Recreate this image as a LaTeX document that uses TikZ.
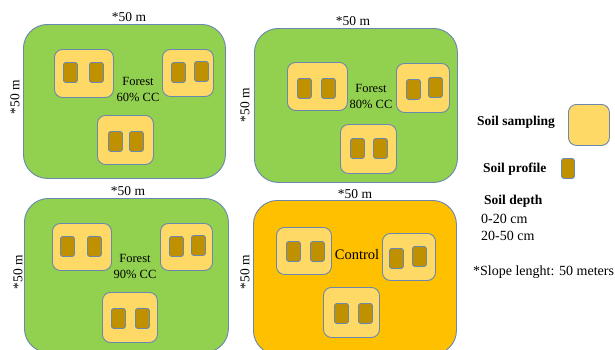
\documentclass[tikz,border=0pt]{standalone}
\usepackage{fontspec}
\setmainfont{Liberation Serif}
\definecolor{plotgreen}{RGB}{146,208,80}
\definecolor{plotorange}{RGB}{255,192,0}
\definecolor{sampfill}{RGB}{255,217,102}
\definecolor{proffill}{RGB}{191,144,0}
\definecolor{edgeblue}{RGB}{105,135,175}
\begin{document}
\begin{tikzpicture}[x=1pt,y=-1pt,
  plotbox/.style={draw=edgeblue,line width=0.9pt,rounded corners=24pt,inner sep=0pt,anchor=north west},
  sampbox/.style={draw=edgeblue,fill=sampfill,line width=0.9pt,rounded corners=8pt,inner sep=0pt,anchor=north west},
  profbox/.style={draw=edgeblue,fill=proffill,line width=0.9pt,rounded corners=2.5pt,inner sep=0pt,anchor=north west,minimum width=14pt,minimum height=20pt},
  dimlab/.style={font=\fontsize{13.5}{15}\selectfont,inner sep=0pt},
  plotlab/.style={font=\fontsize{12.5}{16}\selectfont,inner sep=0pt,align=center},
  leglab/.style={font=\fontsize{14}{15}\selectfont,inner sep=0pt,anchor=west}]
\useasboundingbox (0,0) rectangle (615,349);
% ---------------- Plot A
\node[plotbox,fill=plotgreen,minimum width=202pt,minimum height=154pt] (pA) at (23,24) {};
\node[sampbox,minimum width=59pt,minimum height=48pt] (sA1) at (54,49) {};
\node[profbox] (pA11) at (63,62) {};
\node[profbox] (pA12) at (89,62) {};
\node[sampbox,minimum width=51pt,minimum height=47pt] (sA2) at (162,49) {};
\node[profbox] (pA21) at (171,62) {};
\node[profbox] (pA22) at (194,61) {};
\node[sampbox,minimum width=56pt,minimum height=49pt] (sA3) at (97,115) {};
\node[profbox] (pA31) at (108,131) {};
\node[profbox] (pA32) at (129,131) {};
\node[plotlab] (lA) at (138,89) {Forest\\60\% CC};
\node[dimlab] (tA) at (129,17) {*50 m};
\node[dimlab,rotate=90] (vA) at (15,97) {*50 m};
% ---------------- Plot B
\node[plotbox,fill=plotgreen,minimum width=203pt,minimum height=154pt] (pB) at (254,28) {};
\node[sampbox,minimum width=60pt,minimum height=48pt] (sB1) at (287,62) {};
\node[profbox] (pB11) at (297,78) {};
\node[profbox] (pB12) at (321,78) {};
\node[sampbox,minimum width=53pt,minimum height=49pt] (sB2) at (396,63) {};
\node[profbox] (pB21) at (406,79) {};
\node[profbox] (pB22) at (428,77) {};
\node[sampbox,minimum width=56pt,minimum height=49pt] (sB3) at (340,124) {};
\node[profbox] (pB31) at (350,138) {};
\node[profbox] (pB32) at (373,138) {};
\node[plotlab] (lB) at (371,96) {Forest\\80\% CC};
\node[dimlab] (tB) at (353,21) {*50 m};
\node[dimlab,rotate=90] (vB) at (245,105) {*50 m};
% ---------------- Plot C
\node[plotbox,fill=plotgreen,minimum width=204pt,minimum height=154pt] (pC) at (24,198) {};
\node[sampbox,minimum width=59pt,minimum height=47pt] (sC1) at (52,223) {};
\node[profbox] (pC11) at (60,236) {};
\node[profbox] (pC12) at (87,236) {};
\node[sampbox,minimum width=52pt,minimum height=47pt] (sC2) at (160,223) {};
\node[profbox] (pC21) at (169,236) {};
\node[profbox] (pC22) at (191,235) {};
\node[sampbox,minimum width=55pt,minimum height=50pt] (sC3) at (102,292) {};
\node[profbox] (pC31) at (111,308) {};
\node[profbox] (pC32) at (135,308) {};
\node[plotlab] (lC) at (135,266) {Forest\\90\% CC};
\node[dimlab] (tC) at (128,191) {*50 m};
\node[dimlab,rotate=90] (vC) at (18,272) {*50 m};
% ---------------- Plot D (control)
\node[plotbox,fill=plotorange,minimum width=203pt,minimum height=154pt] (pD) at (253,200) {};
\node[sampbox,minimum width=55pt,minimum height=47pt] (sD1) at (276,227) {};
\node[profbox] (pD11) at (286,241) {};
\node[profbox] (pD12) at (310,241) {};
\node[sampbox,minimum width=53pt,minimum height=47pt] (sD2) at (382,233) {};
\node[profbox] (pD21) at (389,248) {};
\node[profbox] (pD22) at (412,246) {};
\node[sampbox,minimum width=56pt,minimum height=50pt] (sD3) at (323,287) {};
\node[profbox] (pD31) at (334,303) {};
\node[profbox] (pD32) at (358,303) {};
\node[plotlab,font=\fontsize{14.5}{16}\selectfont] (lD) at (357,255) {Control};
\node[dimlab] (tD) at (355,194) {*50 m};
\node[dimlab,rotate=90] (vD) at (245,272) {*50 m};
% ---------------- Legend
\node[leglab,font=\fontsize{13.5}{15}\selectfont\bfseries] (gS) at (477,122) {Soil sampling};
\node[sampbox,minimum width=41pt,minimum height=41pt] (gSb) at (568,104) {};
\node[leglab,font=\fontsize{13.5}{15}\selectfont\bfseries] (gP) at (483,169) {Soil profile};
\node[profbox,minimum width=13pt] (gPb) at (561,158) {};
\node[leglab,font=\fontsize{13.5}{15}\selectfont\bfseries] (gD) at (484,201) {Soil depth};
\node[leglab] (gD1) at (481,219) {0-20 cm};
\node[leglab] (gD2) at (481,236) {20-50 cm};
\node[leglab] (gL) at (473,272) {*Slope lenght: 50 meters};
\end{tikzpicture}
\end{document}
